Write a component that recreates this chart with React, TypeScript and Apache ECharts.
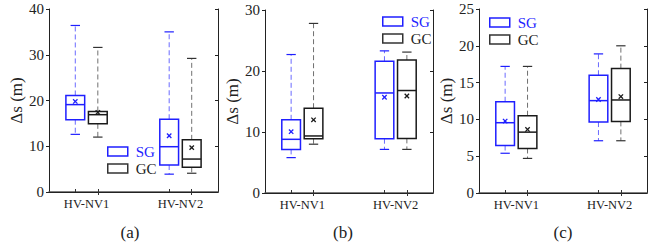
import React, { useEffect, useRef } from 'react';
import * as echarts from 'echarts';

const categories = ['HV-NV1', 'HV-NV2'];
// each row: [min, q1, median, q3, max, mean]
const panelA_SG = [[12.6, 15.8, 19.1, 21.1, 36.4, 19.8], [3.9, 5.9, 9.9, 15.9, 35.0, 12.3]];
const panelA_GC = [[12.0, 14.9, 16.9, 17.6, 31.6, 17.4], [4.1, 5.4, 7.2, 11.4, 29.2, 9.7]];
const panelB_SG = [[5.8, 7.15, 8.8, 12.0, 22.7, 10.05], [7.15, 8.9, 16.4, 21.6, 23.3, 15.7]];
const panelB_GC = [[8.0, 8.9, 9.35, 13.9, 27.8, 12.0], [7.15, 8.95, 16.8, 21.8, 23.1, 15.9]];
const panelC_SG = [[5.4, 6.45, 9.55, 12.4, 17.2, 9.77], [7.1, 9.64, 12.55, 16.0, 18.9, 12.7]];
const panelC_GC = [[4.7, 6.05, 8.27, 10.5, 17.2, 8.64], [7.1, 9.73, 12.64, 16.9, 20.0, 13.1]];
const yMaxes = [40, 30, 25];
const ySteps = [10, 10, 5];
const panelLabels = ['(a)', '(b)', '(c)'];
const yAxisName = 'Δs (m)';

const FONT = "'Liberation Serif', 'Times New Roman', 'DejaVu Serif', serif";
const SG_BOX = '#1f1fff';
const SG_WHISK = '#6a6aff';
const GC_BOX = '#1a1a1a';
const GC_WHISK = '#707070';

const OFFSET = 0.12;
const HALF_W = 0.1;
const CAP_HALF = 0.05;

function makeRenderItem(boxColor: string, whiskColor: string, capColor: string) {
  return (params: any, api: any) => {
    const x = api.value(0);
    const c = (v: number) => api.coord([x, v]);
    const half = api.size([HALF_W, 0])[0];
    const capHalf = api.size([CAP_HALF, 0])[0];
    const pMin = c(api.value(1));
    const px = pMin[0];
    const yMin = pMin[1];
    const yQ1 = c(api.value(2))[1];
    const yMed = c(api.value(3))[1];
    const yQ3 = c(api.value(4))[1];
    const yMax = c(api.value(5))[1];
    const yMean = c(api.value(6))[1];
    const m = 2.2;
    return {
      type: 'group',
      children: [
        { type: 'line', shape: { x1: px, y1: yQ3, x2: px, y2: yMax }, style: { stroke: whiskColor, lineWidth: 1, lineDash: [5, 3] } },
        { type: 'line', shape: { x1: px, y1: yQ1, x2: px, y2: yMin }, style: { stroke: whiskColor, lineWidth: 1, lineDash: [5, 3] } },
        { type: 'line', shape: { x1: px - capHalf, y1: yMax, x2: px + capHalf, y2: yMax }, style: { stroke: capColor, lineWidth: 1.2 } },
        { type: 'line', shape: { x1: px - capHalf, y1: yMin, x2: px + capHalf, y2: yMin }, style: { stroke: capColor, lineWidth: 1.2 } },
        { type: 'rect', shape: { x: px - half, y: yQ3, width: 2 * half, height: yQ1 - yQ3 }, style: { fill: 'none', stroke: boxColor, lineWidth: 1.5 } },
        { type: 'line', shape: { x1: px - half, y1: yMed, x2: px + half, y2: yMed }, style: { stroke: boxColor, lineWidth: 1.5 } },
        { type: 'line', shape: { x1: px - m, y1: yMean - m, x2: px + m, y2: yMean + m }, style: { stroke: boxColor, lineWidth: 1.3 } },
        { type: 'line', shape: { x1: px - m, y1: yMean + m, x2: px + m, y2: yMean - m }, style: { stroke: boxColor, lineWidth: 1.3 } },
      ],
    };
  };
}

const panels = [
  { sg: panelA_SG, gc: panelA_GC },
  { sg: panelB_SG, gc: panelB_GC },
  { sg: panelC_SG, gc: panelC_GC },
];

const gridPos = [
  { left: 49, top: 9, width: 169, height: 183 },
  { left: 265, top: 10, width: 168, height: 183 },
  { left: 479, top: 9, width: 168, height: 184 },
];
const legendPos = [
  { left: 107, top: 144 },
  { left: 382, top: 14 },
  { left: 489, top: 15 },
];
const labelPos = [
  { x: 130, y: 232 },
  { x: 343, y: 232 },
  { x: 563, y: 232 },
];

export default function App() {
  const ref = useRef<HTMLDivElement>(null);
  useEffect(() => {
    if (!ref.current) return;
    const chart = echarts.init(ref.current, undefined, { renderer: 'svg' });
    const xAxis: any[] = [];
    const yAxis: any[] = [];
    const series: any[] = [];
    const legend: any[] = [];
    panels.forEach((p, i) => {
      xAxis.push({
        type: 'value', gridIndex: i, min: 0.6, max: 2.4, position: 'bottom',
        axisLine: { show: true, lineStyle: { color: '#555', width: 1.5 } },
        axisTick: { show: true, inside: true, length: 3, customValues: [1 - OFFSET, 1 + OFFSET, 2 - OFFSET, 2 + OFFSET], lineStyle: { color: '#333' } },
        axisLabel: {
          customValues: [1, 2],
          formatter: (v: number) => categories[Math.round(v) - 1] || '',
          fontFamily: FONT, fontSize: 12.5, color: '#222', margin: 5,
        },
        splitLine: { show: false },
      });
      xAxis.push({
        type: 'value', gridIndex: i, min: 0.6, max: 2.4, position: 'top',
        axisLine: { show: true, lineStyle: { color: '#222', width: 1 } },
        axisTick: { show: true, inside: true, length: 3, customValues: [1 + OFFSET, 2 + OFFSET], lineStyle: { color: '#333' } },
        axisLabel: { show: false },
        splitLine: { show: false },
      });
      yAxis.push({
        type: 'value', gridIndex: i, min: 0, max: yMaxes[i], interval: ySteps[i], position: 'left',
        name: yAxisName, nameLocation: 'middle', nameGap: 22,
        nameTextStyle: { fontFamily: FONT, fontSize: 17, color: '#222' },
        axisLine: { show: true, lineStyle: { color: '#222', width: 1 } },
        axisTick: { show: true, length: 3, lineStyle: { color: '#222' } },
        axisLabel: { fontFamily: FONT, fontSize: 15, color: '#222', margin: 5 },
        splitLine: { show: false },
      });
      yAxis.push({
        type: 'value', gridIndex: i, min: 0, max: yMaxes[i], interval: ySteps[i], position: 'right',
        axisLine: { show: true, lineStyle: { color: '#222', width: 1 } },
        axisTick: { show: true, inside: true, length: 3, lineStyle: { color: '#222' } },
        axisLabel: { show: false },
        splitLine: { show: false },
      });
      series.push({
        type: 'custom', name: 'SG', xAxisIndex: 2 * i, yAxisIndex: 2 * i,
        itemStyle: { color: SG_BOX },
        encode: { x: 0, y: [1, 2, 3, 4, 5] },
        data: p.sg.map((d, k) => [k + 1 - OFFSET, ...d]),
        renderItem: makeRenderItem(SG_BOX, SG_WHISK, SG_BOX),
      });
      series.push({
        type: 'custom', name: 'GC', xAxisIndex: 2 * i, yAxisIndex: 2 * i,
        itemStyle: { color: GC_BOX },
        encode: { x: 0, y: [1, 2, 3, 4, 5] },
        data: p.gc.map((d, k) => [k + 1 + OFFSET, ...d]),
        renderItem: makeRenderItem(GC_BOX, GC_WHISK, '#333'),
      });
      legend.push({
        ...legendPos[i], padding: 0, orient: 'vertical', itemWidth: 20, itemHeight: 9, itemGap: 2,
        selectedMode: false,
        textStyle: { fontFamily: FONT, fontSize: 15, color: '#222', padding: [0, 0, 0, 3] },
        data: [
          { name: 'SG', icon: 'rect', itemStyle: { color: 'rgba(0,0,0,0)', borderColor: SG_BOX, borderWidth: 1.5 }, textStyle: { color: SG_BOX } },
          { name: 'GC', icon: 'rect', itemStyle: { color: 'rgba(0,0,0,0)', borderColor: '#333', borderWidth: 1.5 }, textStyle: { color: '#222' } },
        ],
      });
    });
    chart.setOption({
      animation: false,
      backgroundColor: '#fff',
      textStyle: { fontFamily: FONT },
      grid: gridPos.map((g) => ({ ...g, containLabel: false })),
      xAxis, yAxis, series, legend,
      graphic: panelLabels.map((t, i) => ({
        type: 'text', x: labelPos[i].x, y: labelPos[i].y,
        style: { text: t, fontFamily: FONT, fontSize: 17, fill: '#222', textAlign: 'center', textVerticalAlign: 'middle' },
      })),
    });
    return () => chart.dispose();
  }, []);
  return <div ref={ref} style={{ position: 'absolute', left: 0, top: 0, width: 657, height: 248 }} />;
}
